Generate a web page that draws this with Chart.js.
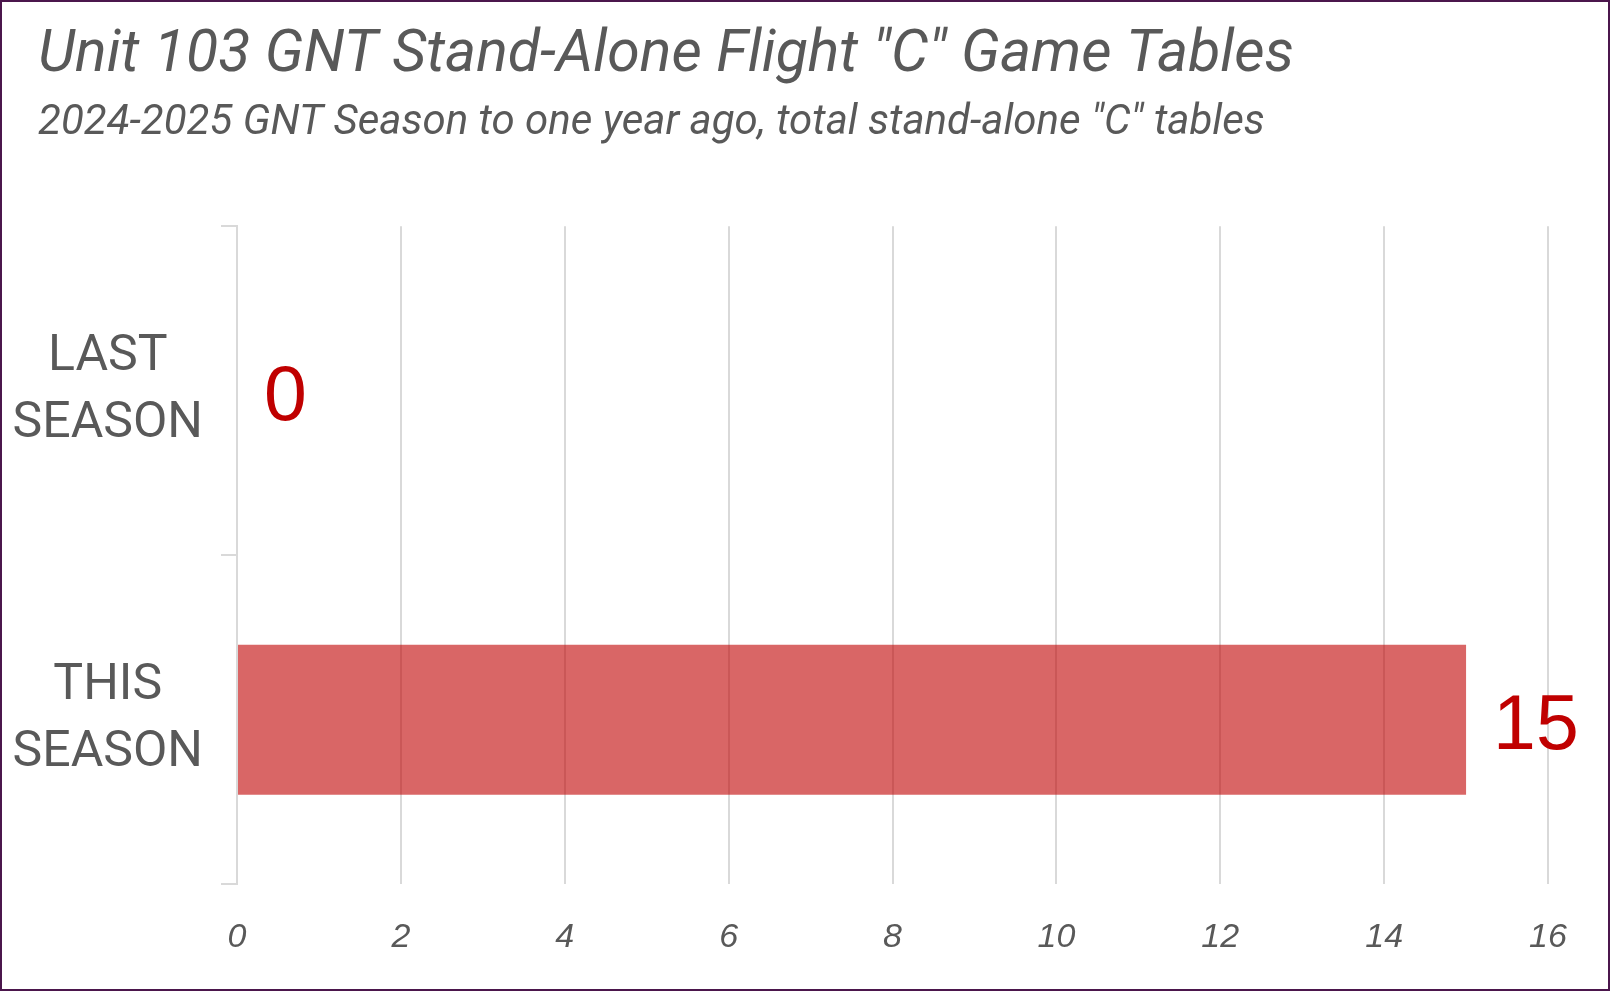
<!DOCTYPE html>
<html>
<head>
<meta charset="utf-8">
<script src="https://cdn.jsdelivr.net/npm/chart.js@4"></script>
<style>
  html, body { margin: 0; padding: 0; background: #fff; }
  #wrap { position: relative; width: 1610px; height: 991px; }
  #frame { position: absolute; left: 0; top: 0; width: 1610px; height: 991px; box-sizing: border-box; border: 2px solid #4b164c; pointer-events: none; }
</style>
</head>
<body>
<div id="wrap">
  <canvas id="chart" width="1610" height="991"></canvas>
  <div id="frame"></div>
</div>
<script>
const categories = [["LAST", "SEASON"], ["THIS", "SEASON"]];
const tableCounts = [0, 15];
const xMin = 0;
const xMax = 16;
const xStep = 2;

const titleText = 'Unit 103 GNT Stand-Alone Flight "C" Game Tables';
const subtitleText = '2024-2025 GNT Season to one year ago, total stand-alone "C" tables';

const grey = "#595959";
const lineGrey = "#d9d9d9";
const red = "#c00000";

// draws the value to the right of each bar end
const valueLabels = {
  id: "valueLabels",
  afterDatasetsDraw(chart) {
    let ctx = chart.ctx;
    let meta = chart.getDatasetMeta(0);
    ctx.save();
    ctx.font = "77px 'Liberation Sans', Arial, sans-serif";
    ctx.fillStyle = red;
    ctx.textAlign = "left";
    ctx.textBaseline = "alphabetic";
    meta.data.forEach((bar, i) => {
      ctx.fillText(String(tableCounts[i]), bar.x + 27, bar.y + 29);
    });
    ctx.restore();
  }
};

// category labels reach further left than the title margin, so widen the
// y axis box (and its label clip area) to the canvas edge
const wideYAxis = {
  id: "wideYAxis",
  afterLayout(chart) {
    chart.scales.y.left = 0;
  }
};

new Chart(document.getElementById("chart"), {
  type: "bar",
  data: {
    labels: categories,
    datasets: [{
      data: tableCounts,
      backgroundColor: "rgba(192, 0, 0, 0.6)",
      borderWidth: 0,
      barPercentage: 0.456,
      categoryPercentage: 1
    }]
  },
  options: {
    indexAxis: "y",
    responsive: false,
    animation: false,
    devicePixelRatio: 1,
    layout: { padding: { top: 0, left: 38, right: 62, bottom: 0 } },
    plugins: {
      legend: { display: false },
      tooltip: { enabled: false },
      title: {
        display: true,
        text: titleText,
        align: "start",
        color: grey,
        font: { family: "Roboto", size: 59, style: "italic", weight: "normal", lineHeight: 1.2 },
        padding: { top: 21, bottom: 0 }
      },
      subtitle: {
        display: true,
        text: subtitleText,
        align: "start",
        color: grey,
        font: { family: "Roboto", size: 42, style: "italic", weight: "normal", lineHeight: 1.2 },
        padding: { top: 6, bottom: 78 }
      }
    },
    scales: {
      x: {
        min: xMin,
        max: xMax,
        ticks: {
          stepSize: xStep,
          color: grey,
          padding: 33,
          font: { family: "'Liberation Sans', Arial, sans-serif", size: 34, style: "italic" }
        },
        grid: { color: lineGrey, lineWidth: 2, drawTicks: false },
        border: { display: false }
      },
      y: {
        offset: true,
        afterFit(scale) {
          scale.width = 199;
          scale.paddingTop = 0;
          scale.paddingBottom = 0;
        },
        ticks: {
          color: grey,
          crossAlign: "center",
          padding: 18,
          font: { family: "Roboto", size: 50, lineHeight: 1.34 }
        },
        grid: { offset: true, drawOnChartArea: false, drawTicks: true, tickLength: 16, color: lineGrey, lineWidth: 2 },
        border: { display: true, color: lineGrey, width: 2 }
      }
    }
  },
  plugins: [valueLabels, wideYAxis]
});
</script>
</body>
</html>
